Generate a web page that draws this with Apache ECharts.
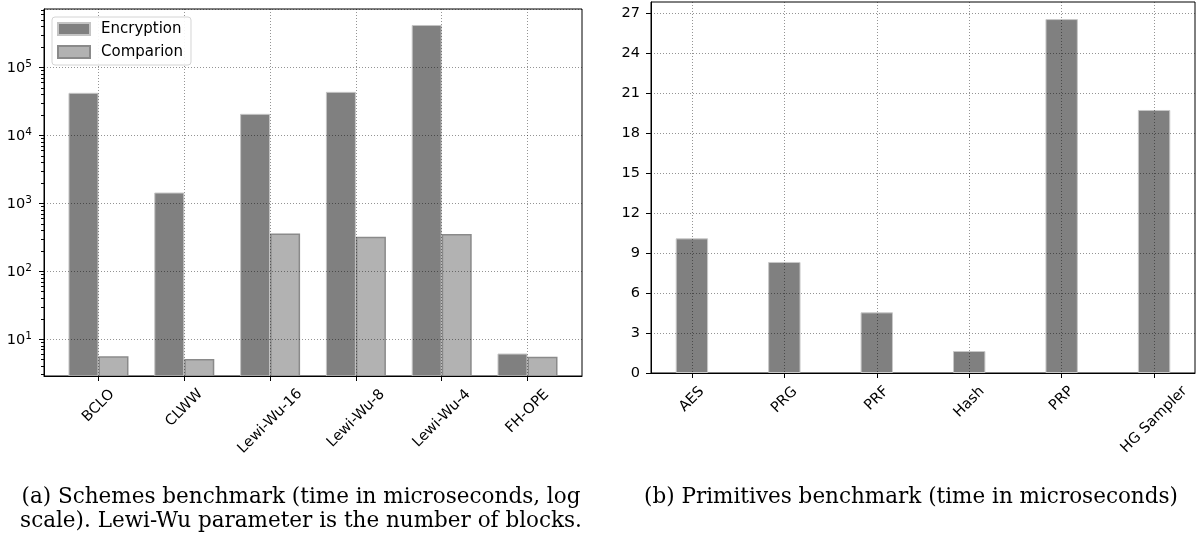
<!DOCTYPE html>
<html><head><meta charset="utf-8">
<script src="https://cdn.jsdelivr.net/npm/echarts@6/dist/echarts.min.js"></script>
<style>html,body{margin:0;padding:0;background:#fff}#c{width:1198px;height:540px}</style>
</head><body><div id="c"></div>
<script>
// ---------- data ----------
const schemeCategories = ['BCLO', 'CLWW', 'Lewi-Wu-16', 'Lewi-Wu-8', 'Lewi-Wu-4', 'FH-OPE'];
const encryptionTimes = [42000, 1430, 20600, 43400, 419000, 6.1];
const comparisonTimes = [5.55, 5.05, 358, 320, 350, 5.45];
const primitiveCategories = ['AES', 'PRG', 'PRF', 'Hash', 'PRP', 'HG Sampler'];
const primitiveTimes = [10.1, 8.33, 4.55, 1.65, 26.55, 19.73];
const categoryTickIdx = [0, 1, 2, 3, 4, 5];
const logMajorTicks = [10, 100, 1000, 10000, 100000];
const logMinorTicks = [3, 4, 5, 6, 7, 8, 9,
  20, 30, 40, 50, 60, 70, 80, 90,
  200, 300, 400, 500, 600, 700, 800, 900,
  2000, 3000, 4000, 5000, 6000, 7000, 8000, 9000,
  20000, 30000, 40000, 50000, 60000, 70000, 80000, 90000,
  200000, 300000, 400000, 500000, 600000, 700000];
const linearTicks = [0, 3, 6, 9, 12, 15, 18, 21, 24, 27];
const captionA = '(a) Schemes benchmark (time in microseconds, log\nscale). Lewi-Wu parameter is the number of blocks.';
const captionB = '(b) Primitives benchmark (time in microseconds)';

// ---------- helpers ----------
const SANS = 'DejaVu Sans';
const SERIF = 'DejaVu Serif';
const FS = 14.5;
const mctx = document.createElement('canvas').getContext('2d');
function textW(t, size, fam) { mctx.font = size + 'px "' + fam + '"'; return mctx.measureText(t).width; }
function rotRich(names) {
  const rich = {};
  names.forEach((n, i) => {
    const L = textW(n, FS, SANS);
    const pad = Math.round((L + 17) * 0.5);
    rich['r' + i] = { fontSize: FS, fontFamily: SANS, color: '#000', lineHeight: 17, padding: [pad, pad, 0, 0] };
  });
  return rich;
}
const capSize = 562 / textW('scale). Lewi-Wu parameter is the number of blocks.', 100, SERIF) * 100;

const gridLine = { show: true, lineStyle: { color: 'rgba(0,0,0,0.42)', type: [1, 2], width: 1 } };
const axisLineBlack = { show: true, onZero: false, lineStyle: { color: '#000', width: 1 } };

function tickSeries(values, len) {
  return {
    type: 'custom', xAxisIndex: 0, yAxisIndex: 0, silent: true, z: 5, clip: false,
    data: values.map(v => [0, v]),
    renderItem: (params, api) => {
      const cs = params.coordSys;
      const y = Math.round(api.coord([0, api.value(1)])[1]) + 0.5;
      return { type: 'line', shape: { x1: cs.x - len, y1: y, x2: cs.x, y2: y }, style: { stroke: '#000', lineWidth: 1 } };
    }
  };
}

const chart = echarts.init(document.getElementById('c'), null, { renderer: 'canvas' });
chart.setOption({
  animation: false,
  backgroundColor: '#fff',
  grid: [
    { left: 44, top: 9, width: 538, height: 367, outerBoundsMode: 'none', containLabel: false, show: true, borderColor: '#000', borderWidth: 1, backgroundColor: 'transparent' },
    { left: 651, top: 2, width: 544, height: 371, outerBoundsMode: 'none', containLabel: false, show: true, borderColor: '#000', borderWidth: 1, backgroundColor: 'transparent' }
  ],
  legend: {
    data: ['Encryption', 'Comparion'], orient: 'vertical', left: 52, top: 17, z: 10,
    icon: 'rect',
    padding: [3.5, 8, 4.5, 5], itemWidth: 32, itemHeight: 12, itemGap: 6,
    backgroundColor: 'rgba(255,255,255,0.9)', borderColor: '#d4d4d4', borderWidth: 1, borderRadius: 3,
    selectedMode: false,
    textStyle: { fontSize: 15, fontFamily: SANS, color: '#000', lineHeight: 17, padding: [0, 0, 0, 6] }
  },
  xAxis: [
    {
      gridIndex: 0, type: 'value', min: -0.635, max: 5.635, z: 3,
      axisLine: axisLineBlack,
      axisTick: { show: true, length: 5, lineStyle: { color: '#000' }, customValues: categoryTickIdx },
      axisLabel: {
        customValues: categoryTickIdx, rotate: 45, align: 'center', verticalAlign: 'middle', margin: 10,
        formatter: v => { const i = Math.round(v); return '{r' + i + '|' + schemeCategories[i] + '}'; },
        rich: rotRich(schemeCategories)
      },
      splitLine: gridLine
    },
    {
      gridIndex: 1, type: 'value', min: -0.4425, max: 5.4425, z: 3,
      axisLine: axisLineBlack,
      axisTick: { show: true, length: 5, lineStyle: { color: '#000' }, customValues: categoryTickIdx },
      axisLabel: {
        customValues: categoryTickIdx, rotate: 45, align: 'center', verticalAlign: 'middle', margin: 10,
        formatter: v => { const i = Math.round(v); return '{r' + i + '|' + primitiveCategories[i] + '}'; },
        rich: rotRich(primitiveCategories)
      },
      splitLine: gridLine
    }
  ],
  yAxis: [
    {
      gridIndex: 0, type: 'log', logBase: 10, min: 2.85, max: 720000, z: 3,
      axisLine: axisLineBlack,
      axisTick: { show: false },
      axisLabel: {
        margin: 12, showMinLabel: false, showMaxLabel: false,
        formatter: v => {
          const e = Math.log10(v);
          if (Math.abs(e - Math.round(e)) > 1e-6 || v < 9) return '';
          return '{b|10}{s|' + Math.round(e) + '}';
        },
        rich: {
          b: { fontSize: FS, fontFamily: SANS, color: '#000', verticalAlign: 'bottom', lineHeight: 17 },
          s: { fontSize: 10.5, fontFamily: SANS, color: '#000', verticalAlign: 'top', lineHeight: 10 }
        }
      },
      splitLine: gridLine
    },
    {
      gridIndex: 1, type: 'value', min: 0, max: 27.83, interval: 3, z: 3,
      axisLine: axisLineBlack,
      axisTick: { show: true, length: 5, lineStyle: { color: '#000' }, customValues: linearTicks },
      axisLabel: { customValues: linearTicks, margin: 11, fontSize: FS, fontFamily: SANS, color: '#000' },
      splitLine: gridLine
    }
  ],
  series: [
    {
      name: 'Encryption', type: 'bar', xAxisIndex: 0, yAxisIndex: 0, clip: true,
      data: encryptionTimes.map((v, i) => [i, v]),
      barWidth: 30, barGap: '0%',
      itemStyle: { color: '#808080', borderColor: '#c4c4c4', borderWidth: 1 }
    },
    {
      name: 'Comparion', type: 'bar', xAxisIndex: 0, yAxisIndex: 0, clip: true,
      data: comparisonTimes.map((v, i) => [i, v]),
      barWidth: 30, barGap: '0%',
      itemStyle: { color: '#b2b2b2', borderColor: '#8a8a8a', borderWidth: 1.5 }
    },
    {
      name: 'Primitives', type: 'bar', xAxisIndex: 1, yAxisIndex: 1, clip: true,
      data: primitiveTimes.map((v, i) => [i, v]),
      barWidth: 32.4,
      itemStyle: { color: '#808080', borderColor: '#c8c8c8', borderWidth: 1 }
    },
    tickSeries(logMajorTicks, 5),
    tickSeries(logMinorTicks, 3)
  ],
  graphic: [
    { type: 'text', x: 301, y: 509, silent: true,
      style: { text: captionA, fill: '#000', font: capSize.toFixed(2) + 'px "' + SERIF + '"', align: 'center', verticalAlign: 'middle', lineHeight: 24 } },
    { type: 'text', x: 911, y: 497, silent: true,
      style: { text: captionB, fill: '#000', font: capSize.toFixed(2) + 'px "' + SERIF + '"', align: 'center', verticalAlign: 'middle' } }
  ]
});
</script>
</body></html>
